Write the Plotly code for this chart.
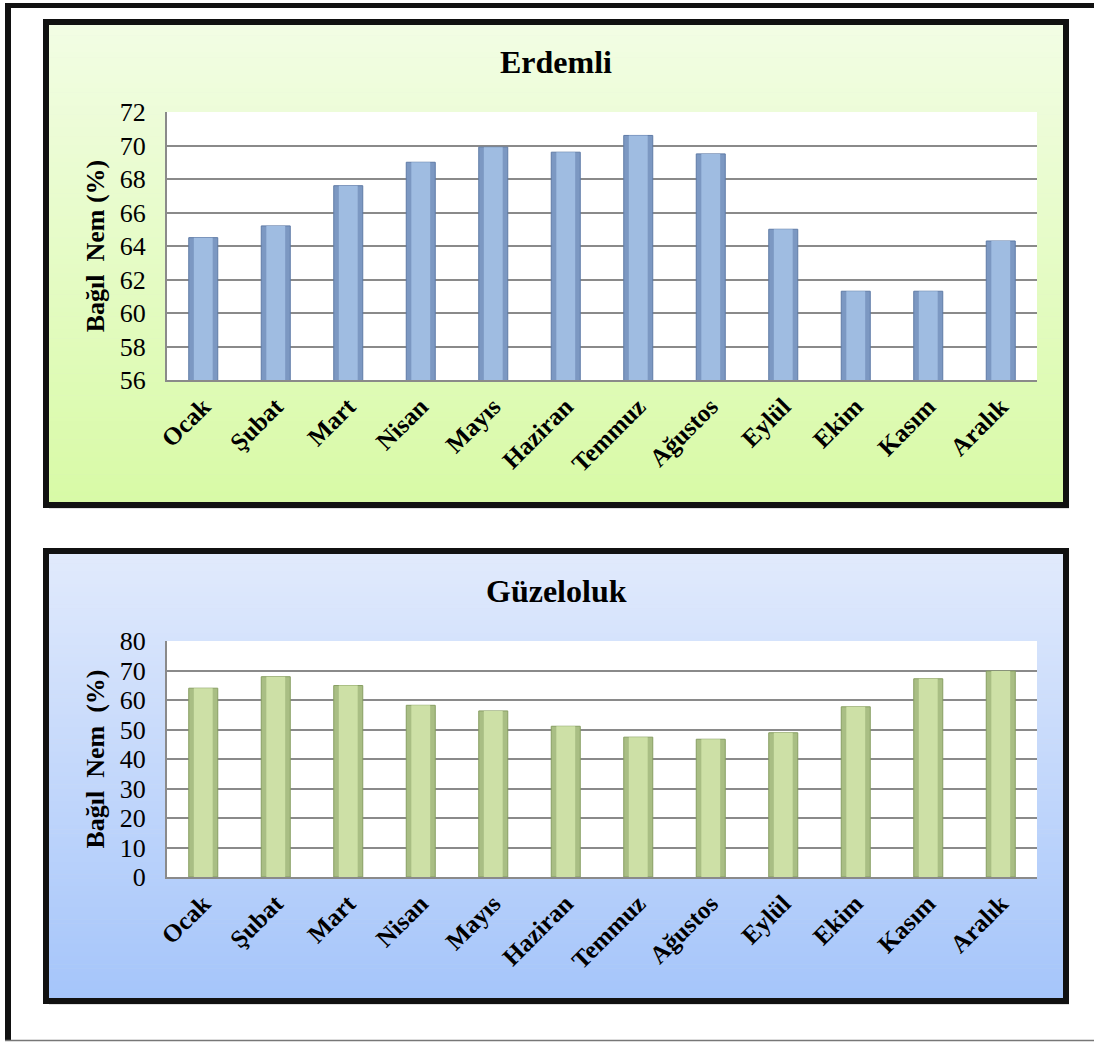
import plotly.graph_objects as go

# Monthly relative humidity (%) for two stations
months = ["Ocak", "Şubat", "Mart", "Nisan", "Mayıs", "Haziran",
          "Temmuz", "Ağustos", "Eylül", "Ekim", "Kasım", "Aralık"]
erdemli = [64.5, 65.2, 67.6, 69.0, 69.9, 69.6, 70.6, 69.5, 65.0, 61.3, 61.3, 64.3]
guzeloluk = [64.0, 67.9, 64.9, 58.2, 56.3, 51.1, 47.4, 46.7, 48.9, 57.7, 67.2, 69.8]

erdemli_ticks = [56, 58, 60, 62, 64, 66, 68, 70, 72]
guzeloluk_ticks = [0, 10, 20, 30, 40, 50, 60, 70, 80]

W, H = 1094, 1042


def fx(x):
    return x / W


def fy(y):
    return 1 - y / H


def lerp_color(c0, c1, t):
    return "rgb({},{},{})".format(*[round(a + (b - a) * t) for a, b in zip(c0, c1)])


SERIF = "Liberation Serif"
shapes = []


def gradient_panel(x0, y0, x1, y1, top, bottom, n=110):
    step = (y1 - y0) / n
    for i in range(n):
        shapes.append(dict(
            type="rect", xref="paper", yref="paper", layer="below",
            x0=fx(x0), x1=fx(x1), y0=fy(y0 + i * step), y1=fy(y0 + (i + 1) * step + 0.6),
            fillcolor=lerp_color(top, bottom, i / (n - 1)), line=dict(width=0)))


# panel shadows
for (x0, y0, x1, y1) in [(46, 22, 1066, 505), (46, 551, 1066, 1001)]:
    shapes.append(dict(type="rect", xref="paper", yref="paper", layer="below",
                       x0=fx(x0 + 3), x1=fx(x1 + 3), y0=fy(y0 + 3), y1=fy(y1 + 4),
                       fillcolor="rgba(0,0,0,0.12)", line=dict(width=0)))

# panel backgrounds
gradient_panel(46, 22, 1066, 505, (242, 253, 228), (216, 250, 166))
gradient_panel(46, 551, 1066, 1001, (225, 234, 252), (165, 197, 250))

# white plot areas
for (x0, y0, x1, y1) in [(167, 112, 1037, 380), (167, 641, 1037, 877)]:
    shapes.append(dict(type="rect", xref="paper", yref="paper", layer="below",
                       x0=fx(x0), x1=fx(x1), y0=fy(y1), y1=fy(y0),
                       fillcolor="white", line=dict(width=0)))

# panel frames
for (x0, y0, x1, y1) in [(46, 22, 1066, 505), (46, 551, 1066, 1001)]:
    shapes.append(dict(type="rect", xref="paper", yref="paper", layer="above",
                       x0=fx(x0), x1=fx(x1), y0=fy(y1), y1=fy(y0),
                       fillcolor="rgba(0,0,0,0)", line=dict(color="#111111", width=6)))

# outer page frame
shapes.append(dict(type="line", xref="paper", yref="paper", x0=fx(5), x1=1, y0=fy(5.5), y1=fy(5.5),
                   line=dict(color="#111111", width=5)))
shapes.append(dict(type="line", xref="paper", yref="paper", x0=fx(8), x1=fx(8), y0=fy(3), y1=fy(1041),
                   line=dict(color="#111111", width=6)))
shapes.append(dict(type="line", xref="paper", yref="paper", x0=fx(5), x1=1, y0=fy(1040.5), y1=fy(1040.5),
                   line=dict(color="#777777", width=1.5)))

fig = go.Figure()
# bars: a darker outer body with a lighter inner face for a bevelled look
for vals, xa, ya, edge, face, outline in [
    (erdemli, "x", "y", "#7C98C2", "#9FBCE1", "#5F7BA6"),
    (guzeloluk, "x2", "y2", "#A9BE84", "#CDE0A6", "#879E62"),
]:
    fig.add_trace(go.Bar(x=months, y=vals, xaxis=xa, yaxis=ya, width=0.4,
                         marker=dict(color=edge, line=dict(color=outline, width=1)),
                         showlegend=False, hoverinfo="skip"))
    fig.add_trace(go.Bar(x=months, y=vals, xaxis=xa, yaxis=ya, width=0.26,
                         marker=dict(color=face, line=dict(width=0)),
                         showlegend=False))

tick_font = dict(family=SERIF, size=26, color="black")
cat_font = dict(family=SERIF, size=25, color="black", weight="bold")
title_font = dict(family=SERIF, size=26, color="black", weight="bold")

xaxis_common = dict(type="category", tickangle=-45, tickfont=cat_font, showgrid=False,
                    showline=True, linecolor="#8A8A8A", linewidth=2, ticks="", zeroline=False,
                    fixedrange=True, automargin=False)
yaxis_common = dict(showgrid=True, gridcolor="#8A8A8A", gridwidth=2, showline=True,
                    linecolor="#8A8A8A", linewidth=2, ticks="", tickfont=tick_font,
                    ticklabelstandoff=14, zeroline=False, fixedrange=True, automargin=False)

fig.update_layout(
    width=W, height=H,
    margin=dict(l=0, r=0, t=0, b=0, pad=0, autoexpand=False),
    paper_bgcolor="white",
    plot_bgcolor="rgba(0,0,0,0)",
    barmode="overlay",
    shapes=shapes,
    xaxis=dict(domain=[fx(167), fx(1037)], anchor="y", **xaxis_common),
    yaxis=dict(domain=[fy(380), fy(112)], anchor="x", range=[56, 72], tickvals=erdemli_ticks,
               title=dict(text="Bağıl\u00a0\u00a0Nem (%)", font=title_font, standoff=8),
               **yaxis_common),
    xaxis2=dict(domain=[fx(167), fx(1037)], anchor="y2", **xaxis_common),
    yaxis2=dict(domain=[fy(877), fy(641)], anchor="x2", range=[0, 80], tickvals=guzeloluk_ticks,
                title=dict(text="Bağıl\u00a0\u00a0Nem\u00a0\u00a0(%)", font=title_font, standoff=8),
                **yaxis_common),
    annotations=[
        dict(text="Erdemli", xref="paper", yref="paper", x=fx(556), y=fy(62),
             xanchor="center", yanchor="middle", showarrow=False,
             font=dict(family=SERIF, size=32, color="black", weight="bold")),
        dict(text="Güzeloluk", xref="paper", yref="paper", x=fx(556), y=fy(591),
             xanchor="center", yanchor="middle", showarrow=False,
             font=dict(family=SERIF, size=32, color="black", weight="bold")),
    ],
)

fig.write_html("out.html", post_script="document.body.style.margin='0';")
